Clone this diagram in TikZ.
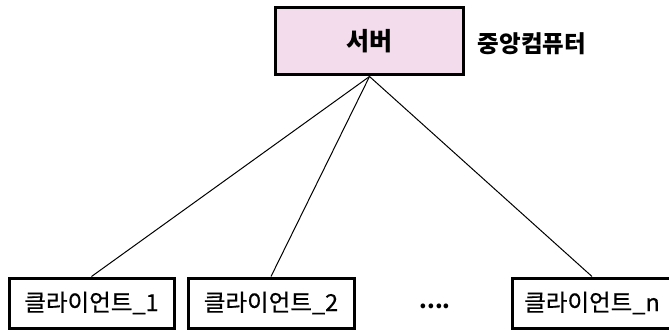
\documentclass[tikz,border=0pt]{standalone}
\usepackage{fontspec}
\setmainfont{Noto Sans CJK KR}
\newfontfamily\medfont{Noto Sans CJK KR}[FakeBold=0.6]
\definecolor{serverpink}{HTML}{F3DCEC}

\begin{document}
\begin{tikzpicture}[x=1pt,y=1pt,
  box/.style={draw=black,line width=3pt,minimum height=50pt,inner sep=0pt,font=\fontsize{23.5}{28}\selectfont\medfont},
  serverbox/.style={box,fill=serverpink,minimum width=188pt,minimum height=67pt,font=\fontsize{25}{30}\selectfont\bfseries},
  link/.style={draw=black,line width=1pt}]
\useasboundingbox (0,0) rectangle (669,330);
\clip (0,0) rectangle (669,330);
% Draw the server and its label
\node[serverbox] (server) at (369.5,288.5) {서버};
\node[font=\fontsize{23.5}{28}\selectfont\bfseries] (central) at (532,286) {중앙컴퓨터};
% Draw the clients
\node[box,minimum width=165pt] (client1) at (91.5,27) {클라이언트\_1};
\node[box,minimum width=166pt] (client2) at (271,27) {클라이언트\_2};
\node[box,minimum width=160pt] (clientn) at (592,27) {클라이언트\_n};
\node[font=\fontsize{22}{26}\selectfont\bfseries] (dots) at (435,24) {....};
% Draw the links from the server to each client
\draw[link] (server.south) -- (client1.north);
\draw[link] (server.south) -- (client2.north);
\draw[link] (server.south) -- (clientn.north);
\end{tikzpicture}
\end{document}
